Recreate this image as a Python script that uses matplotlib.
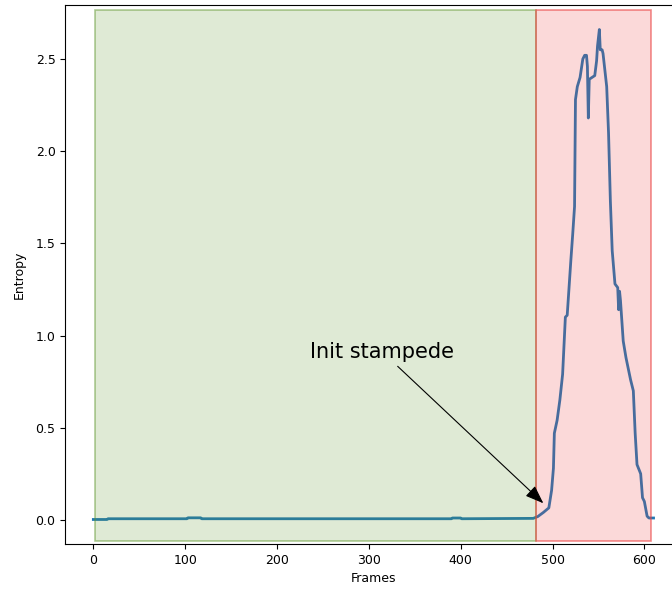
import numpy as np
import matplotlib.pyplot as plt

# --- data (frame, entropy)

frames = [0, 15, 16, 102, 103, 117, 118, 390, 391, 400, 401, 479,
          484, 490, 496, 499, 501, 502, 505, 508, 511, 514, 516, 520, 522, 524,
          525, 527, 530, 533, 535, 537, 538, 539, 540, 543, 546, 548, 549, 551,
          552, 554, 555, 559, 561, 563, 565, 568, 571, 572, 573, 574, 577, 580,
          585, 588, 590, 592, 596, 598, 600, 603, 605, 610]
entropy = [0.002, 0.002, 0.006, 0.006, 0.011, 0.011, 0.006, 0.006, 0.010, 0.010, 0.006, 0.008,
           0.018, 0.04, 0.065, 0.16, 0.28, 0.47, 0.54, 0.65, 0.79, 1.10, 1.11, 1.41, 1.55, 1.70,
           2.28, 2.35, 2.40, 2.50, 2.52, 2.52, 2.46, 2.18, 2.39, 2.40, 2.41, 2.49, 2.57, 2.66,
           2.55, 2.55, 2.53, 2.35, 2.10, 1.73, 1.46, 1.28, 1.26, 1.14, 1.24, 1.19, 0.97, 0.88,
           0.76, 0.70, 0.47, 0.30, 0.25, 0.12, 0.10, 0.02, 0.01, 0.01]

# phases: (start, end)
calm = (2, 482)
stampede = (482, 607)

# annotation
note = 'Init stampede'
note_xy = (490, 0.09)
note_text = (236, 0.88)

# --- plot

fig = plt.figure(figsize=(6.72, 5.90), dpi=100)
# axes runs past the right edge of the figure, as in the (cropped) reference
ax = fig.add_axes([0.0972, 0.078, 0.917, 0.9135])

ax.plot(frames, entropy, color='tab:blue', lw=2, zorder=1)

green = (95/255, 150/255, 45/255)
red = (235/255, 65/255, 65/255)
ax.axvspan(*calm, ymin=0.005, ymax=0.99, facecolor=green + (0.2,),
           edgecolor=green + (0.5,), lw=1.2, zorder=2)
ax.axvspan(*stampede, ymin=0.005, ymax=0.99, facecolor=red + (0.2,),
           edgecolor=red + (0.6,), lw=1.2, zorder=2)

# arrow from the text centre, clipped at the text box
ax.annotate(note, xy=note_xy, xytext=note_text, fontsize=15,
            arrowprops=dict(arrowstyle='-|>,head_length=0.75,head_width=0.28',
                            fc='black', ec='black', lw=0.8, relpos=(0.5, 0.5),
                            shrinkA=2, shrinkB=0),
            zorder=3)

ax.spines['right'].set_visible(False)
ax.set_xticks([0, 100, 200, 300, 400, 500, 600])
ax.tick_params(labelsize=9)
ax.set_xlabel('Frames', fontsize=9)
ax.set_ylabel('Entropy', fontsize=9, labelpad=7)

fig.savefig('out.png', dpi=100)
